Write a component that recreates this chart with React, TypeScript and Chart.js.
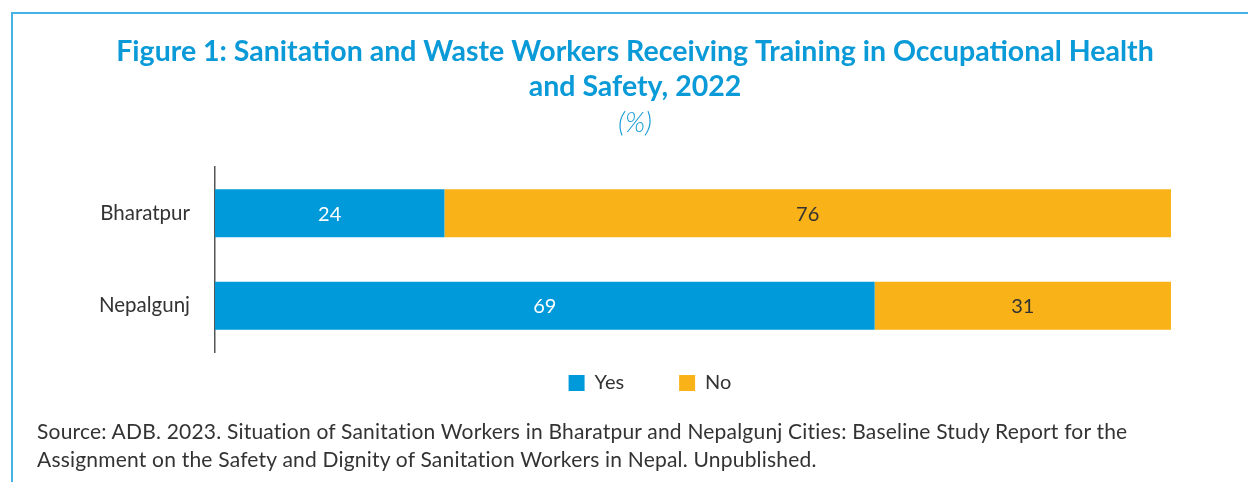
import React, { useEffect, useRef } from 'react';
import { Chart, registerables } from 'chart.js';

Chart.register(...registerables);

const categories = ['Bharatpur', 'Nepalgunj'];
const yesValues = [24, 69];
const noValues = [76, 31];
const seriesNames = ['Yes', 'No'];
const seriesColors = ['#009ADA', '#F9B218'];
const valueLabelColors = ['#FFFFFF', '#333333'];
const titleLines = [
  'Figure 1: Sanitation and Waste Workers Receiving Training in Occupational Health',
  'and Safety, 2022',
];
const subtitleText = '(%)';
const sourceLines = [
  'Source: ADB. 2023. Situation of Sanitation Workers in Bharatpur and Nepalgunj Cities: Baseline Study Report for the',
  'Assignment on the Safety and Dignity of Sanitation Workers in Nepal. Unpublished.',
];

const FONT = 'Lato, "Open Sans", sans-serif';

const legendPlacer = {
  id: 'legendPlacer',
  afterLayout(chart: any) {
    const lg = chart.legend;
    const ca = chart.chartArea;
    if (!lg || !ca) return;
    // item centre = top + padding + itemHeight/2 ; target ca.bottom + 31
    const dy = ca.bottom + 31 - (55 + 10) - lg.top;
    lg.top += dy;
    lg.bottom += dy;
    const dx = 650 - (lg.left + lg.right) / 2;
    lg.left += dx;
    lg.right += dx;
  },
};

const barValueLabels = {
  id: 'barValueLabels',
  afterDatasetsDraw(chart: any) {
    const ctx = chart.ctx;
    chart.data.datasets.forEach((ds: any, i: number) => {
      const meta = chart.getDatasetMeta(i);
      meta.data.forEach((bar: any, j: number) => {
        const v = ds.data[j];
        const { x, y, base } = bar.getProps(['x', 'y', 'base'], true);
        ctx.save();
        ctx.fillStyle = valueLabelColors[i];
        ctx.font = `20px ${FONT}`;
        ctx.textAlign = 'center';
        ctx.textBaseline = 'middle';
        ctx.fillText(String(v), (x + base) / 2, y + 1);
        ctx.restore();
      });
    });
  },
};

function BarChart() {
  const canvasRef = useRef<HTMLCanvasElement | null>(null);

  useEffect(() => {
    let chart: Chart | null = null;
    let cancelled = false;
    const make = () => {
      if (cancelled || !canvasRef.current) return;
      chart = new Chart(canvasRef.current, {
        type: 'bar',
        data: {
          labels: categories,
          datasets: [
            {
              label: seriesNames[0],
              data: yesValues,
              backgroundColor: seriesColors[0],
              borderWidth: 0,
              barPercentage: 0.52,
              categoryPercentage: 1,
            },
            {
              label: seriesNames[1],
              data: noValues,
              backgroundColor: seriesColors[1],
              borderWidth: 0,
              barPercentage: 0.52,
              categoryPercentage: 1,
            },
          ],
        },
        options: {
          indexAxis: 'y',
          animation: false,
          responsive: false,
          maintainAspectRatio: false,
          devicePixelRatio: 1,
          layout: { padding: { left: 99, right: 77, top: 0, bottom: 0 } },
          scales: {
            x: {
              stacked: true,
              min: 0,
              max: 100,
              display: false,
            },
            y: {
              stacked: true,
              grid: { display: false, drawTicks: false },
              border: { display: true, color: '#555555', width: 1.5 },
              ticks: {
                color: '#333333',
                font: { family: FONT, size: 20.5 },
                padding: 25,
              },
              afterFit: (scale: any) => {
                scale.width = 116;
              },
            },
          },
          plugins: {
            title: {
              display: true,
              text: titleLines,
              color: '#0A9AD8',
              font: { family: FONT, size: 28.5, weight: 'bold', lineHeight: 35 / 28.5 },
              padding: { top: 34, bottom: 0 },
            },
            subtitle: {
              display: true,
              text: subtitleText,
              color: '#1A9DD9',
              font: { family: FONT, size: 28, style: 'italic', weight: 300, lineHeight: 30 / 28 },
              padding: { top: 4, bottom: 29 },
            },
            legend: {
              display: true,
              position: 'bottom',
              labels: {
                boxWidth: 16,
                boxHeight: 16,
                padding: 55,
                color: '#333333',
                font: { family: FONT, size: 20 },
              },
            },
            tooltip: { enabled: false },
          },
        },
        plugins: [legendPlacer, barValueLabels],
      });
    };
    const fontsReady = (document as any).fonts
      ? Promise.all([
          (document as any).fonts.load(`bold 28px Lato`),
          (document as any).fonts.load(`italic 300 28px Lato`),
          (document as any).fonts.load(`20px Lato`),
        ]).catch(() => null)
      : Promise.resolve(null);
    fontsReady.then(make);
    return () => {
      cancelled = true;
      if (chart) chart.destroy();
    };
  }, []);

  return (
    <canvas
      ref={canvasRef}
      width={1248}
      height={437}
      style={{ position: 'absolute', left: 0, top: 0, width: 1248, height: 437 }}
    />
  );
}

export default function App() {
  return (
    <div
      style={{
        position: 'absolute',
        left: 0,
        top: 0,
        width: 1248,
        height: 482,
        overflow: 'hidden',
        background: '#ffffff',
        fontFamily: FONT,
      }}
    >
      <div
        style={{
          position: 'absolute',
          left: 11,
          top: 12,
          width: 1300,
          height: 500,
          borderTop: '2px solid #45B3E5',
          borderLeft: '2px solid #45B3E5',
        }}
      />
      <BarChart />
      <div
        style={{
          position: 'absolute',
          left: 37,
          top: 417,
          fontSize: 21,
          letterSpacing: '0.2px',
          lineHeight: '28px',
          color: '#333333',
          whiteSpace: 'nowrap',
        }}
      >
        {sourceLines.map((l, i) => (
          <div key={i}>{l}</div>
        ))}
      </div>
    </div>
  );
}
